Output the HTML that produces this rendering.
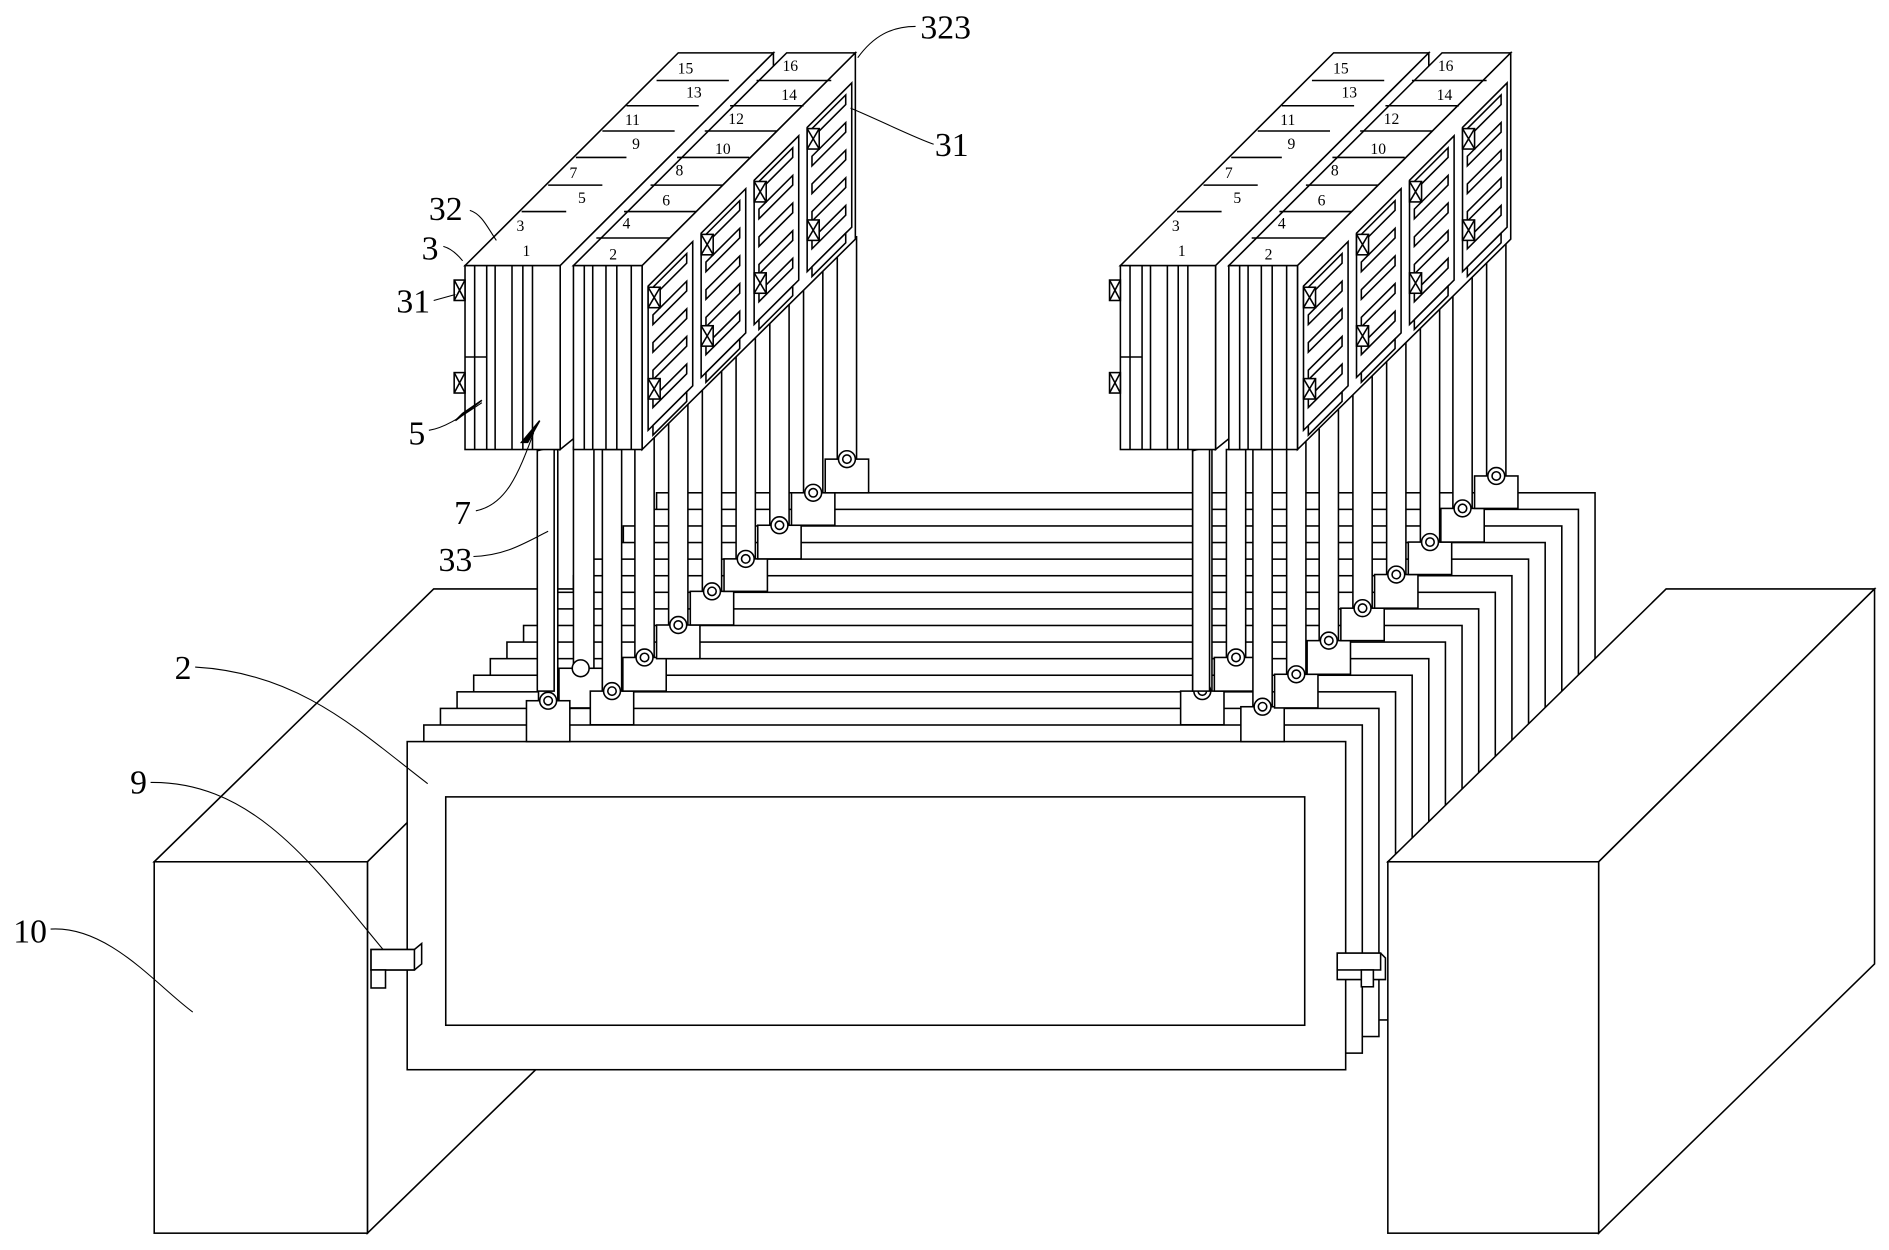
<!DOCTYPE html>
<html><head><meta charset="utf-8"><style>
html,body{margin:0;padding:0;background:#fff;}
svg{display:block;}
text{font-family:"Liberation Serif",serif;fill:#000;}
</style></head><body>
<svg id="s" width="1889" height="1250" viewBox="0 0 1568 1040" preserveAspectRatio="none" xmlns="http://www.w3.org/2000/svg">
<g id="g" fill="#fff" stroke="#000" stroke-width="1.3" stroke-linejoin="miter"></g>
</svg>
<script>
var g=document.getElementById('g');var out=[];
function P(pts,extra){out.push('<polygon points="'+pts.map(function(p){return p[0]+','+p[1]}).join(' ')+'" '+(extra||'')+'/>');}
function R(x,y,w,h,extra){out.push('<rect x="'+x+'" y="'+y+'" width="'+w+'" height="'+h+'" '+(extra||'')+'/>');}
function L(x1,y1,x2,y2,extra){out.push('<line x1="'+x1+'" y1="'+y1+'" x2="'+x2+'" y2="'+y2+'" '+(extra||'')+'/>');}
function C(x,y,r,extra){out.push('<circle cx="'+x+'" cy="'+y+'" r="'+r+'" '+(extra||'')+'/>');}
function T(x,y,s,t,sz){out.push('<text x="'+x+'" y="'+y+'" font-size="'+sz+'" stroke="none" text-anchor="middle">'+t+'</text>');}
function Pa(d,extra){out.push('<path d="'+d+'" fill="none" '+(extra||'')+'/>');}

P([[128,717],[305,717],[535,490],[360,490]]);
P([[305,717],[535,490],[535,802],[305,1026]]);
R(128,717,177,309);
var sp=13.8;
for(var i=15;i>=0;i--){var d=i*sp;R(338+d,617-d,779,273);}
R(370,663,713,190);
function rod(x,ytop,ybot){R(x-8,ytop,16,ybot-ytop);}
function clamp(cx,cy,top,plain){R(cx-18,cy,36,top-cy);C(cx,cy,7);if(!plain)C(cx,cy,3.5);}
function group(ox){
  var cl=[[455,583,617],[508,575,603],[535,547,575],[563,520,548],[591,492,520],[619,465,492],[647,437,465],[675,410,437],[703,382,410]];
  if(ox>0){cl=[[998-544,575,603],[1026-544,547,575],[1048-544,588,617],[1076-544,561,589],[1103-544,533,561],[1131-544,506,533],[1159-544,478,506],[1187-544,451,478],[1214-544,423,451],[1242-544,396,423]];}
  if(ox==0){R(476,372,17,185);clamp(482,556,589,true);}
  cl.forEach(function(c){var x=c[0]+ox;var yt=(c[0]>525?375-(c[0]+8-533):374);rod(x,yt,c[1]);clamp(x,c[1],c[2]);});
  R(446+ox,345,14,230);
  P([[446+ox,330],[466+ox,318],[466+ox,370],[446+ox,375]]);
  out.push('<ellipse cx="'+(454+ox)+'" cy="340" rx="3.5" ry="5"/>');
  out.push('<ellipse cx="'+(454+ox)+'" cy="355" rx="3.5" ry="5"/>');
  P([[386+ox,221],[465+ox,221],[642+ox,44],[563+ox,44]]);
  P([[465+ox,221],[642+ox,44],[642+ox,230],[465+ox,374]]);
  R(386+ox,221,79,153);
  [394,404,411,425,434,442].forEach(function(x){L(x+ox,221,x+ox,374);});
  L(386+ox,297,404+ox,297);
  R(377+ox,233,9,17);L(377+ox,233,386+ox,250);L(386+ox,233,377+ox,250);
  R(377+ox,310,9,17);L(377+ox,310,386+ox,327);L(386+ox,310,377+ox,327);
  [[176,433,470],[154,455,500],[131,478,520],[109,500,560],[88,520,580],[67,545,605]].forEach(function(a){L(a[1]+ox,a[0],a[2]+ox,a[0]);});
  P([[476+ox,221],[533+ox,221],[710+ox,44],[653+ox,44]]);
  P([[533+ox,221],[710+ox,44],[710+ox,199],[533+ox,374]]);
  R(476+ox,221,57,153);
  [485,492,503,512,524].forEach(function(x){L(x+ox,221,x+ox,374);});
  [[198,495,556],[176,518,578],[154,540,600],[131,562,622],[109,585,645],[88,606,667],[67,628,690]].forEach(function(a){L(a[1]+ox,a[0],a[2]+ox,a[0]);});
  for(var s=0;s<4;s++){
    var x0=538+44*s+ox,yt=201-44*s;
    P([[x0,yt+37],[x0+37,yt],[x0+37,yt+120],[x0,yt+157]]);
    for(var j=0;j<6;j++){var a=yt+8+j*23;P([[x0+4,a+30],[x0+32,a+2],[x0+32,a+10],[x0+4,a+38]]);}
    [yt+38,yt+114].forEach(function(y){R(x0,y,10,17);L(x0,y,x0+10,y+17);L(x0+10,y,x0,y+17);});
  }
  var la=[[437,213,'1'],[432,192,'3'],[483,169,'5'],[476,148,'7'],[528,124,'9'],[525,104,'11'],[576,81,'13'],[569,61,'15'],
          [509,216,'2'],[520,190,'4'],[553,171,'6'],[564,146,'8'],[600,128,'10'],[611,103,'12'],[655,83,'14'],[656,59,'16']];
  la.forEach(function(l){T(l[0]+ox,l[1],0,l[2],13);});
}
group(0);group(544);
P([[1152,717],[1327,717],[1556,490],[1383,490]]);
P([[1327,717],[1556,490],[1556,802],[1327,1026]]);
R(1152,717,175,309);
P([[308,790],[344,790],[350,785],[350,802],[344,807],[308,807]]);R(308,790,36,17);R(308,807,12,15);
P([[1110,793],[1146,793],[1150,797],[1150,815],[1110,815]]);R(1110,793,36,14);R(1130,807,10,14);
P([[378,350],[400,333],[384,344]],'fill="#000"');
P([[433,368],[448,350],[438,368]],'fill="#000"');
var lk='stroke-width="0.9"';
Pa('M712,48 C725,30 740,22 760,22',lk);
Pa('M706,90 C730,100 760,115 775,120',lk);
Pa('M390,175 C400,178 405,190 412,200',lk);
Pa('M368,205 C375,207 380,212 384,217',lk);
Pa('M360,250 L378,245',lk);
Pa('M356,358 C370,356 385,345 400,335',lk);
Pa('M395,425 C420,420 430,395 443,360',lk);
Pa('M393,463 C420,462 435,452 455,442',lk);
Pa('M162,555 C250,560 300,610 355,652',lk);
Pa('M125,651 C210,650 260,720 318,790',lk);
Pa('M42,773 C90,770 130,820 160,842',lk);
T(785,32,0,'323',28);T(790,130,0,'31',28);T(370,183,0,'32',28);T(357,216,0,'3',28);
T(343,260,0,'31',28);T(346,370,0,'5',28);T(384,436,0,'7',28);T(378,475,0,'33',28);
T(152,565,0,'2',28);T(115,660,0,'9',28);T(25,784,0,'10',28);
g.innerHTML=out.join('');
</script>
</body></html>
